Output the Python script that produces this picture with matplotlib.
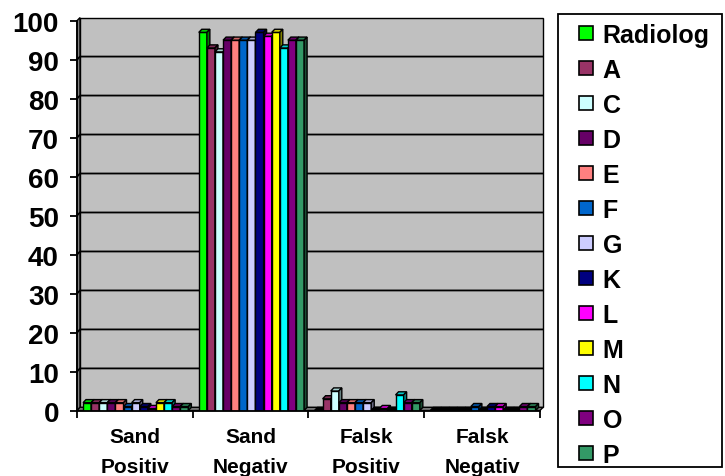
import numpy as np
import matplotlib.pyplot as plt
from matplotlib.patches import Polygon, Rectangle
from matplotlib.lines import Line2D
from matplotlib.colors import to_rgb

plt.rcParams['font.family'] = ['Liberation Sans', 'DejaVu Sans']
plt.rcParams['font.weight'] = 'bold'

categories = ['Sand\nPositiv', 'Sand\nNegativ', 'Falsk\nPositiv', 'Falsk\nNegativ']
readers = ['Radiolog', 'A', 'C', 'D', 'E', 'F', 'G', 'K', 'L', 'M', 'N', 'O', 'P']
colors = ['#00FF00', '#993366', '#CCFFFF', '#660066', '#FF8080', '#0066CC', '#CCCCFF',
          '#000080', '#FF00FF', '#FFFF00', '#00FFFF', '#800080', '#339966']
sand_pos = [2, 2, 2, 2, 2, 1, 2, 1, 0.5, 2, 2, 1, 1]
sand_neg = [97, 93, 92, 95, 95, 95, 95, 97, 96, 97, 93, 95, 95]
falsk_pos = [0, 3, 5, 2, 2, 2, 2, 0, 0.5, 0, 4, 2, 2]
falsk_neg = [0, 0, 0, 0, 0, 1, 0, 1, 1, 0, 0, 1, 1]

values = np.array([sand_pos, sand_neg, falsk_pos, falsk_neg]).T  # reader x category

fig = plt.figure(figsize=(7.25, 4.77), dpi=100)
ax = fig.add_axes([0.1062, 0.1373, 0.6386, 0.8172])
ax.set_xlim(-0.5, 3.5)
ax.set_ylim(0, 100)
ax.patch.set_visible(False)

# depth of the fake 3d look, in data units
dx = 0.026
dy = 0.8
w = 0.07
x = np.arange(len(categories))


def shade(c, f):
    r, g, b = to_rgb(c)
    return (r * f, g * f, b * f)


# walls and floor
ax.add_patch(Rectangle((-0.5 + dx, dy), 4, 100, facecolor='#C0C0C0', edgecolor='black',
                       lw=1, zorder=0, clip_on=False))
ax.add_patch(Polygon([(-0.5, 0), (-0.5 + dx, dy), (-0.5 + dx, 100 + dy), (-0.5, 100)],
                     facecolor='#808080', edgecolor='black', lw=1, zorder=0, clip_on=False))
ax.add_patch(Polygon([(-0.5, 0), (3.5, 0), (3.5 + dx, dy), (-0.5 + dx, dy)],
                     facecolor='#808080', edgecolor='black', lw=1, zorder=0, clip_on=False))
for v in range(10, 100, 10):
    ax.plot([-0.5, -0.5 + dx, 3.5 + dx], [v, v + dy, v + dy], color='black', lw=1.3, zorder=1,
            clip_on=False)

for i, (name, col) in enumerate(zip(readers, colors)):
    lefts = x - 6.5 * w + i * w + 0.007
    hs = values[i]
    ax.bar(lefts, hs, width=w, align='edge', color=col, edgecolor='black', lw=1, zorder=2)
    for x0, h in zip(lefts, hs):
        top = shade(col, 0.8) if h > 0 else 'black'
        ax.add_patch(Polygon([(x0, h), (x0 + w, h), (x0 + w + dx, h + dy), (x0 + dx, h + dy)],
                             facecolor=top, edgecolor='black', lw=1, zorder=2))
        ax.add_patch(Polygon([(x0 + w, 0), (x0 + w + dx, dy), (x0 + w + dx, h + dy), (x0 + w, h)],
                             facecolor=shade(col, 0.5), edgecolor='black', lw=1, zorder=2))

for s in ['top', 'right']:
    ax.spines[s].set_visible(False)
ax.spines['left'].set_linewidth(1.3)
ax.spines['bottom'].set_linewidth(1.3)

ax.set_yticks(range(0, 101, 10))
ax.tick_params(axis='y', labelsize=20, length=5, width=1.3, pad=8)
ax.set_xticks(x)
ax.set_xticklabels(categories, fontsize=15, linespacing=1.7)
ax.set_xticks(np.arange(-0.5, 3.6, 1), minor=True)
ax.tick_params(axis='x', which='major', length=0, pad=12)
ax.tick_params(axis='x', which='minor', length=5, width=1.3)

# legend box drawn on its own so the entries can sit freely inside it
fig.patches.append(Rectangle((558 / 725, 1 - 468 / 477), 164 / 725, 453 / 477,
                             transform=fig.transFigure, fill=False, edgecolor='black', lw=1.3))
handles = [Line2D([], [], ls='none', marker='s', markersize=9.4, markerfacecolor=c,
                  markeredgecolor='black', markeredgewidth=1.2) for c in colors]
leg = fig.legend(handles, readers, loc='upper left',
                 bbox_to_anchor=(578 / 725, 1 - 24 / 477),
                 fontsize=18, frameon=False,
                 handlelength=0.65, handletextpad=0.33,
                 labelspacing=0.44, borderpad=0, borderaxespad=0)
for t in leg.get_texts():
    t.set_fontweight('bold')

fig.savefig('out.png', dpi=100)
